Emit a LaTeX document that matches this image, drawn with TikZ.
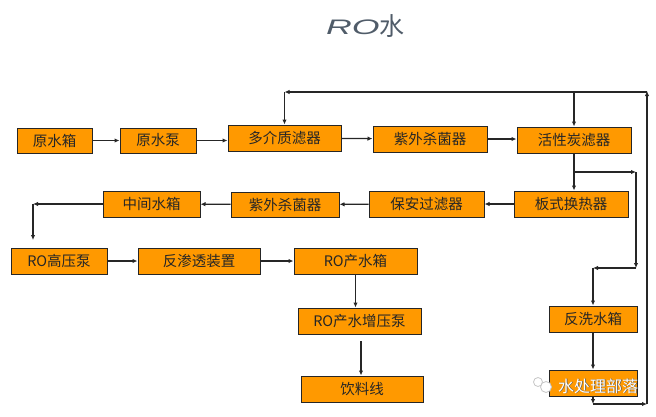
\documentclass[tikz,border=0pt]{standalone}
\usepackage{fontspec}
\setmainfont{Noto Sans CJK SC}
\newfontfamily\latinfont{Liberation Sans}
\newfontfamily\cjklight{Noto Sans CJK SC Light}
\usetikzlibrary{arrows.meta}
\definecolor{boxfill}{HTML}{FF9900}
\definecolor{lineclr}{HTML}{262626}
\definecolor{titleclr}{HTML}{505C69}
\tikzset{
  box/.style={draw=lineclr, line width=1pt, fill=boxfill, minimum height=25pt, inner sep=0pt, font=\fontsize{14.5}{15}\selectfont, text=black!85},
  arr/.style={draw=lineclr, line width=1.2pt, -{Latex[length=5pt,width=4.5pt]}},
  ln/.style={draw=lineclr, line width=1.2pt},
}
\begin{document}
\begin{tikzpicture}[x=1pt, y=-1pt]
\useasboundingbox (0,0) rectangle (656,416);
% title
\node[text=titleclr, inner sep=0pt, anchor=base west] (title) at (326,34) {\latinfont\fontsize{21}{23}\selectfont\scalebox{1.7}[1]{\itshape RO}\fontspec{Noto Sans CJK SC}\fontsize{25}{26}\selectfont\raisebox{-1pt}{水}};
% row 1
\node[box, minimum width=75pt] (yxx) at (54.5,140.5) {原水箱};
\node[box, minimum width=76pt] (yxb) at (158,140.5) {原水泵};
\node[box, minimum width=113pt, minimum height=26pt] (djz) at (284.5,138) {多介质滤器};
\node[box, minimum width=114pt, minimum height=26pt] (zw1) at (430,139) {紫外杀菌器};
\node[box, minimum width=114pt, minimum height=26pt] (hxt) at (574,140) {活性炭滤器};
% row 2
\node[box, minimum width=114pt, minimum height=26pt] (bsh) at (571,204) {板式换热器};
\node[box, minimum width=115pt, minimum height=26pt] (bag) at (426.5,204) {保安过滤器};
\node[box, minimum width=108pt] (zw2) at (285,204.5) {紫外杀菌器};
\node[box, minimum width=97pt, minimum height=26pt] (zjx) at (151.5,204) {中间水箱};
% row 3
\node[box, minimum width=96pt, minimum height=26pt] (gyb) at (59,261) {RO高压泵};
\node[box, minimum width=122pt, minimum height=26pt] (fst) at (199,261) {反渗透装置};
\node[box, minimum width=123pt, minimum height=26pt] (csx) at (355.5,261) {RO产水箱};
\node[box, minimum width=123pt, minimum height=26pt] (zyb) at (359.5,321) {RO产水增压泵};
\node[box, minimum width=122pt, minimum height=26pt] (ylx) at (362,389) {饮料线};
% right column
\node[box, minimum width=88pt, minimum height=26pt] (fxx) at (593,319) {反洗水箱};
\node[box, minimum width=88pt, minimum height=26pt] (fxb) at (593,383) {};
% coordinates
\coordinate (tr) at (647,92);
\coordinate (tl) at (284.5,92);
\coordinate (tm) at (574,92);
\coordinate (br) at (647,404);
\coordinate (bl) at (593,404);
\coordinate (hb) at (574,172);
\coordinate (hr) at (636,172);
\coordinate (hd) at (636,268);
\coordinate (hl) at (593,268);
\coordinate (zl) at (33,204);
\coordinate (zd) at (33,240);
\coordinate (ys) at (361,341);
% row 1 arrows
\draw[arr] (yxx) -- (yxb);
\draw[arr] (yxb.east) -- (djz.west |- yxb.east);
\draw[arr] (djz) -- (zw1);
\draw[arr] (zw1.east) -- (hxt.west |- zw1.east);
% top loop
\draw[arr] (br) -- ([yshift=1pt]tr);
\draw[ln] (tr) -- (tm);
\draw[arr] (tm) -- (tl);
\draw[arr] (tl) -- (djz.north);
\draw[arr] (tm) -- (hxt.north);
% down to heat exchanger and branch
\draw[arr] (hxt.south) -- (bsh.north -| hxt.south);
\draw[arr] (hb) -- (hr);
\draw[arr] (hr) -- (hd);
\draw[arr] (hd) -- (hl);
\draw[arr] (hl) -- (fxx.north);
\draw[arr] (fxx) -- (fxb);
\draw[arr] (fxb.south) -- (bl);
\draw[arr] (bl) -- (br);
% row 2 arrows
\draw[arr] (bsh) -- (bag);
\draw[arr] (bag) -- (zw2);
\draw[arr] (zw2) -- (zjx);
\draw[arr] (zjx.west) -- (zl);
\draw[arr] (zl) -- (zd);
% row 3 arrows
\draw[arr] (gyb) -- (fst);
\draw[arr] (fst) -- (csx);
\draw[arr] (csx.south) -- (zyb.north -| csx.south);
\draw[arr] (ys) -- (ylx.north -| ys);
% watermark
\node[circle, draw=gray!45, line width=0.8pt, minimum size=9pt, inner sep=0pt] (wc1) at (538,382) {};
\node[circle, draw=gray!45, fill=white, line width=0.8pt, minimum size=11pt, inner sep=0pt] (wc2) at (546,387) {};
\node[text=gray!70!black, inner sep=0pt, font=\fontsize{16}{17}\selectfont] (wms) at (598.8,386.8) {水处理部落};
\node[text=white, inner sep=0pt, font=\fontsize{16}{17}\selectfont] (wm) at (598,386) {水处理部落};
\end{tikzpicture}
\end{document}
